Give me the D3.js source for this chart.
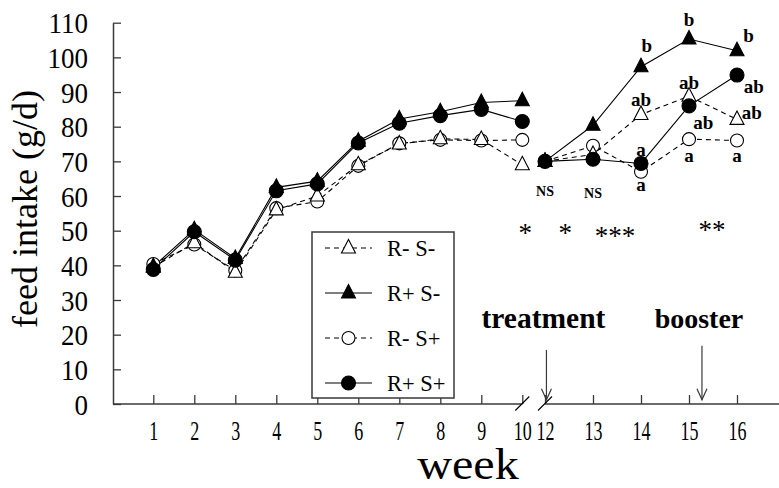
<!DOCTYPE html>
<html><head><meta charset="utf-8">
<script src="https://cdn.jsdelivr.net/npm/d3@7"></script>
<style>body{margin:0;background:#fff}svg{display:block}text{font-family:"Liberation Serif","Times New Roman",serif;fill:#000}</style>
</head><body><svg id="c" width="779" height="488"></svg>
<script>
// ---- data ----
const weeksLeft = [1, 2, 3, 4, 5, 6, 7, 8, 9, 10];
const weeksRight = [12, 13, 14, 15, 16];
const yTicks = [0, 10, 20, 30, 40, 50, 60, 70, 80, 90, 100, 110];
const seriesNames = ["R- S-", "R+ S-", "R- S+", "R+ S+"];
const rmsmLeft = [39.5, 46.5, 38, 56, 60, 69, 75, 76.5, 76.3, 69];
const rmsmRight = [70, 72, 83.5, 88.8, 82.1];
const rpsmLeft = [39.6, 50.3, 42, 62.5, 64.3, 75.8, 82.2, 84.3, 87, 87.5];
const rpsmRight = [70, 80.4, 97.3, 105.3, 101.9];
const rmspLeft = [40.4, 46, 38.5, 56.5, 58.4, 68.7, 75.2, 76.2, 76, 76.2];
const rmspRight = [70, 74.5, 67, 76.4, 76];
const rpspLeft = [38.8, 49.7, 41.5, 61.5, 63.5, 75.3, 81, 83.2, 85, 81.5];
const rpspRight = [70, 70.6, 69.4, 86, 94.9];
const letterLabels = [
  {t:"b", w:14.12, v:103.1}, {t:"ab", w:14, v:87.7}, {t:"a", w:14, v:73.3}, {t:"a", w:14, v:63.2},
  {t:"b", w:15, v:110.8}, {t:"ab", w:15, v:92.5}, {t:"ab", w:15.3, v:81}, {t:"a", w:15, v:71.4},
  {t:"b", w:16.24, v:106}, {t:"ab", w:16.35, v:91.5}, {t:"ab", w:16.31, v:83.9}, {t:"a", w:16, v:71.4}
];
const nsLabels = [{t:"NS", w:12, v:61.2}, {t:"NS", w:13, v:60.8}];
const starLabels = [{t:"*", w:10.07, v:50.5}, {t:"*", w:12.42, v:50.5}, {t:"***", w:13.46, v:49.5}, {t:"**", w:15.48, v:51.4}];
const events = [{t:"treatment", w:12.03, textV:21.9, top:15.6, bottom:1.2}, {t:"booster", w:15.27, textV:21.9, top:16.8, bottom:1.2}];

// ---- scales ----
const svg = d3.select("#c");
const xL = d3.scaleLinear().domain([1, 10]).range([153.3, 522.3]);
const xR = d3.scaleLinear().domain([12, 16]).range([545, 737]);
const x = w => (w <= 11 ? xL(w) : xR(w));
const y = d3.scaleLinear().domain([0, 110]).range([404, 22.7]);
const axisColor = "#3a3a3a";

// ---- axes ----
const yAx = svg.append("g").attr("transform", "translate(113,0)")
  .call(d3.axisLeft(y).tickValues(yTicks).tickSizeInner(-8).tickSizeOuter(0).tickPadding(25));
yAx.select(".domain").attr("stroke", axisColor).attr("stroke-width", 1.5);
yAx.selectAll(".tick line").attr("stroke", axisColor).attr("stroke-width", 1.3);
yAx.selectAll(".tick text").attr("y", null).attr("dy", null).attr("x", null)
  .attr("transform", "translate(-25,10) scale(1,1.12)")
  .attr("font-size", 27).attr("font-family", "Liberation Serif").attr("fill", "#000");

function xAxis(scale, ticks) {
  const g = svg.append("g").attr("transform", "translate(0,404)")
    .call(d3.axisBottom(scale).tickValues(ticks).tickSizeInner(-9).tickSizeOuter(0).tickFormat(d3.format("d")));
  g.select(".domain").remove();
  g.selectAll(".tick line").attr("stroke", axisColor).attr("stroke-width", 1.3);
  g.selectAll(".tick text").attr("y", null).attr("dy", null)
    .attr("transform", "translate(0,36) scale(1,1.55)")
    .attr("font-size", 18).attr("font-family", "Liberation Serif").attr("fill", "#000");
}
xAxis(xL, weeksLeft);
xAxis(xR, weeksRight);
svg.append("line").attr("x1", 113).attr("x2", xL(10)).attr("y1", 404).attr("y2", 404)
  .attr("stroke", axisColor).attr("stroke-width", 1.5);
svg.append("line").attr("x1", xR(12)).attr("x2", 779).attr("y1", 404).attr("y2", 404)
  .attr("stroke", axisColor).attr("stroke-width", 1.5);
[xL(10), xR(12)].forEach(cx => {
  svg.append("line").attr("x1", cx - 7).attr("y1", 410.5).attr("x2", cx + 7).attr("y2", 396.5)
    .attr("stroke", "#000").attr("stroke-width", 1.1);
});

// axis titles
svg.append("text").attr("transform", "translate(37,209) rotate(-90)").attr("text-anchor", "middle")
  .attr("font-size", 36).text("feed intake (g/d)");
svg.append("text").attr("transform", "translate(468,478.5) scale(1.08,1)").attr("text-anchor", "middle")
  .attr("font-size", 44.5).text("week");

// ---- series ----
const triPath = "M0,-8.5L7,5L-7,5Z";
const series = [
  {name: seriesNames[2], left: rmspLeft, right: rmspRight, dash: "5,4", shape: "circle", fill: "#fff"},
  {name: seriesNames[0], left: rmsmLeft, right: rmsmRight, dash: "5,4", shape: "tri", fill: "#fff"},
  {name: seriesNames[1], left: rpsmLeft, right: rpsmRight, dash: null, shape: "tri", fill: "#000"},
  {name: seriesNames[3], left: rpspLeft, right: rpspRight, dash: null, shape: "circle", fill: "#000"}
];
const line = d3.line().x(d => x(d.w)).y(d => y(d.v));
function drawMarker(g, s, cx, cy) {
  if (s.shape === "circle") {
    g.append("circle").attr("cx", cx).attr("cy", cy).attr("r", s.fill === "#000" ? 7 : 6.5)
      .attr("fill", s.fill).attr("stroke", "#000").attr("stroke-width", 1.1);
  } else {
    g.append("path").attr("d", triPath).attr("transform", `translate(${cx},${cy})`)
      .attr("fill", s.fill).attr("stroke", "#000").attr("stroke-width", 1.1);
  }
}
const linesG = svg.append("g");
const marksG = svg.append("g");
series.forEach(s => {
  const segs = [weeksLeft.map((w, i) => ({w, v: s.left[i]})), weeksRight.map((w, i) => ({w, v: s.right[i]}))];
  segs.forEach(seg => {
    linesG.append("path").attr("d", line(seg)).attr("fill", "none").attr("stroke", "#000")
      .attr("stroke-width", 1.1).attr("stroke-dasharray", s.dash);
  });
});
series.forEach(s => {
  const pts = weeksLeft.map((w, i) => ({w, v: s.left[i]})).concat(weeksRight.map((w, i) => ({w, v: s.right[i]})));
  const g = marksG.append("g");
  pts.forEach(p => drawMarker(g, s, x(p.w), y(p.v)));
});

// ---- legend ----
const lg = svg.append("g");
lg.append("rect").attr("x", 312).attr("y", 232).attr("width", 142).attr("height", 166)
  .attr("fill", "#fff").attr("stroke", axisColor).attr("stroke-width", 1.5);
const legendOrder = [1, 2, 0, 3];
legendOrder.forEach((si, i) => {
  const s = series[si];
  const ly = 248 + i * 45;
  lg.append("line").attr("x1", 325).attr("x2", 372).attr("y1", ly).attr("y2", ly)
    .attr("stroke", "#000").attr("stroke-width", 1.1).attr("stroke-dasharray", s.dash);
  drawMarker(lg, s, 348.5, ly);
  lg.append("text").attr("x", 387).attr("y", ly + 8).attr("font-size", 22.5).text(s.name);
});

// ---- annotations ----
letterLabels.forEach(d => {
  svg.append("text").attr("x", x(d.w)).attr("y", y(d.v)).attr("dy", "0.3em").attr("text-anchor", "middle")
    .attr("font-size", 19).attr("font-weight", "bold").text(d.t);
});
nsLabels.forEach(d => {
  svg.append("text").attr("x", x(d.w)).attr("y", y(d.v)).attr("dy", "0.33em").attr("text-anchor", "middle")
    .attr("font-size", 14).attr("font-weight", "bold").text(d.t);
});
starLabels.forEach(d => {
  svg.append("text").attr("x", x(d.w)).attr("y", y(d.v)).attr("dy", "0.47em").attr("text-anchor", "middle")
    .attr("font-size", 27).text(d.t);
});
events.forEach(d => {
  const cx = x(d.w);
  svg.append("text").attr("x", cx - 3).attr("y", y(d.textV)).attr("text-anchor", "middle")
    .attr("font-size", d.t === "treatment" ? 29.5 : 28).attr("font-weight", "bold").text(d.t);
  svg.append("line").attr("x1", cx).attr("x2", cx).attr("y1", y(d.top)).attr("y2", y(d.bottom))
    .attr("stroke", axisColor).attr("stroke-width", 1.2);
  svg.append("path").attr("d", `M${cx-5},${y(d.bottom)-11}L${cx},${y(d.bottom)}L${cx+5},${y(d.bottom)-11}`)
    .attr("fill", "none").attr("stroke", axisColor).attr("stroke-width", 1.2);
});
</script></body></html>
